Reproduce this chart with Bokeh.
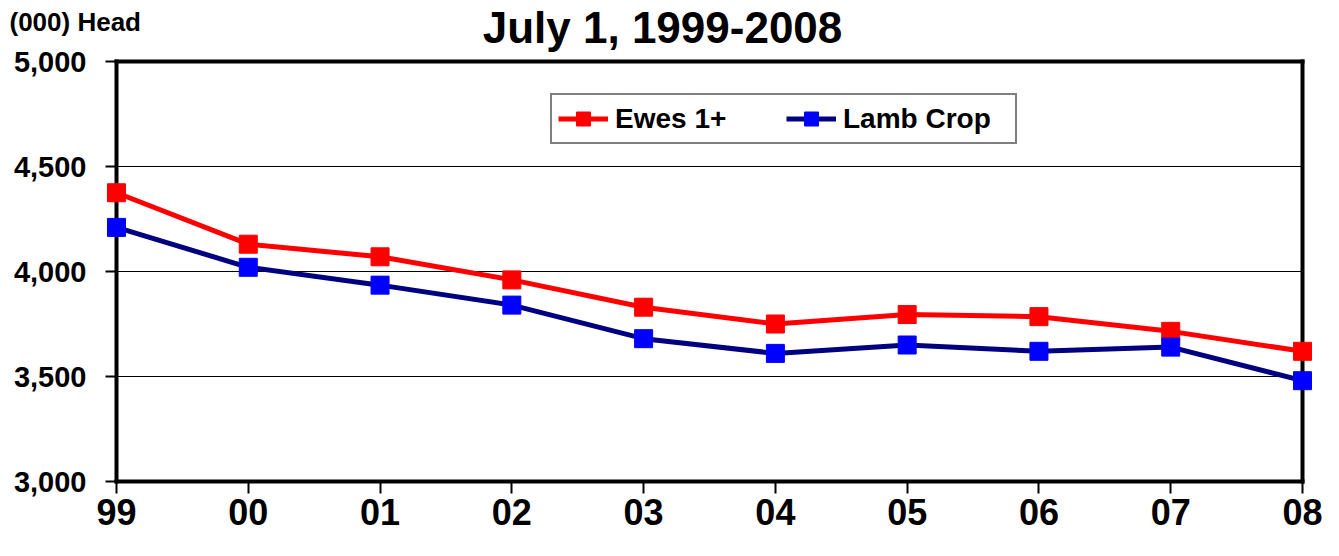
from bokeh.plotting import figure
from bokeh.models import Range1d, FixedTicker, Legend, LegendItem, Label, NumeralTickFormatter
from bokeh.embed import file_html
from bokeh.resources import INLINE

years = ["99", "00", "01", "02", "03", "04", "05", "06", "07", "08"]
ewes = [4375, 4130, 4070, 3960, 3830, 3750, 3795, 3785, 3715, 3620]
lamb = [4210, 4020, 3935, 3840, 3680, 3610, 3650, 3620, 3640, 3480]
y_ticks = [3000, 3500, 4000, 4500, 5000]

FONT = "Liberation Sans"
W, H = 1323, 540
# plot box in pixels (canvas coords)
BL, BR, BT, BB = 116, 1302, 61, 481
xs = list(range(len(years)))
x_first, x_last = xs[0], xs[-1]
y_lo, y_hi = y_ticks[0], y_ticks[-1]

KX = (BR - BL) / (x_last - x_first)
KY = (BB - BT) / (y_hi - y_lo)
x_range = Range1d(x_first - BL / KX, x_last + (W - BR) / KX)
y_range = Range1d(y_lo - (H - BB) / KY, y_hi + BT / KY)

def dx(px):
    return x_first + (px - BL) / KX

def dy(py):
    return y_hi + (BT - py) / KY

p = figure(width=W, height=H, output_backend="svg", toolbar_location=None,
           x_range=x_range, y_range=y_range, min_border=0,
           min_border_left=0, min_border_right=0, min_border_top=0, min_border_bottom=0)
p.background_fill_color = "white"
p.border_fill_color = "white"
p.outline_line_color = None
p.grid.visible = False

# axes drawn at fixed data locations (the whole canvas is the frame)
p.xaxis.fixed_location = y_lo
p.xaxis.bounds = (x_first, x_last)
p.xaxis.ticker = FixedTicker(ticks=xs)
p.xaxis.major_label_overrides = {i: y for i, y in enumerate(years)}
p.yaxis.fixed_location = x_first
p.yaxis.bounds = (y_lo, y_hi)
p.yaxis.ticker = FixedTicker(ticks=y_ticks)
p.yaxis.formatter = NumeralTickFormatter(format="0,0")
for ax in (p.xaxis, p.yaxis):
    ax.axis_line_width = 4
    ax.axis_line_color = "black"
    ax.axis_line_cap = "square"
    ax.major_tick_line_width = 2
    ax.major_tick_line_color = "black"
    ax.major_tick_in = 0
    ax.minor_tick_line_color = None
    ax.major_label_text_font = FONT
    ax.major_label_text_font_style = "bold"
    ax.major_label_text_color = "black"
p.xaxis.major_tick_out = 12
p.xaxis.major_label_text_font_size = "36px"
p.xaxis.major_label_standoff = 5
p.yaxis.major_tick_out = 11
p.yaxis.major_label_text_font_size = "29px"
p.yaxis.major_label_standoff = 19
p.yaxis.level = "underlay"

# horizontal grid lines and the top / right border of the plot box
grid_vals = y_ticks[1:-1]
p.segment(x0=[x_first] * len(grid_vals), y0=grid_vals, x1=[x_last] * len(grid_vals), y1=grid_vals,
          line_color="black", line_width=1)
p.segment(x0=[x_first, x_last], y0=[y_hi, y_lo], x1=[x_last, x_last], y1=[y_hi, y_hi],
          line_color="black", line_width=4, line_cap="square")

l1 = p.line(xs, ewes, line_color="#FF0000", line_width=5)
s1 = p.scatter(xs, ewes, marker="square", size=18, fill_color="#FF0000", line_color="#FF0000")
l2 = p.line(xs, lamb, line_color="#000080", line_width=5)
s2 = p.scatter(xs, lamb, marker="square", size=18, fill_color="#0000FF", line_color="#0000FF")

legend = Legend(items=[LegendItem(label="Ewes 1+", renderers=[l1, s1]),
                       LegendItem(label="Lamb Crop", renderers=[l2, s2])],
                orientation="horizontal", location=(550, H - 144),
                padding=6, spacing=5, glyph_width=50, glyph_height=35,
                label_standoff=7, label_width=166,
                label_text_font=FONT, label_text_font_style="bold",
                label_text_font_size="28px", label_text_color="black",
                border_line_color="black", border_line_width=2,
                background_fill_color="white", background_fill_alpha=1)
p.add_layout(legend, "center")

title = Label(x=dx(662), y=dy(27), text="July 1, 1999-2008", text_align="center",
              text_baseline="middle", text_font=FONT, text_font_style="bold",
              text_font_size="44px", text_color="black")
unit = Label(x=dx(9), y=dy(21), text="(000) Head", text_align="left",
             text_baseline="middle", text_font=FONT, text_font_style="bold",
             text_font_size="26px", text_color="black")
p.add_layout(title)
p.add_layout(unit)

open("out.html", "w").write(file_html(p, INLINE))
